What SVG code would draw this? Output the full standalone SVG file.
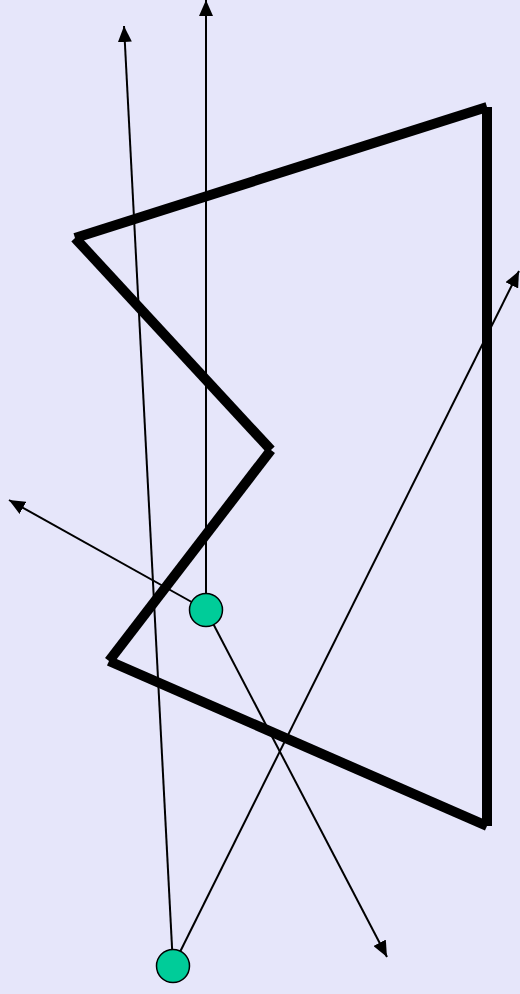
<svg xmlns="http://www.w3.org/2000/svg" width="520" height="994" viewBox="0 0 520 994">
<defs>
<marker id="ah" markerUnits="userSpaceOnUse" markerWidth="17" markerHeight="14" refX="16" refY="7" orient="auto">
<path d="M0,0 L16,7 L0,14 z" fill="#000"/>
</marker>
<style>
.thick{stroke:#000;stroke-width:10;stroke-linecap:butt;fill:none}
.conn{stroke:#000;stroke-width:2;fill:none;marker-end:url(#ah)}
.node{fill:#00cc99;stroke:#000;stroke-width:1.5}
</style>
</defs>
<rect width="520" height="994" fill="#e6e6fa"/>
<g id="shape">
<line class="thick" x1="75" y1="238" x2="271" y2="450"/>
<line class="thick" x1="271" y1="450" x2="109" y2="661"/>
<line class="thick" x1="109" y1="661" x2="487" y2="826"/>
<line class="thick" x1="487" y1="826" x2="487" y2="107"/>
<line class="thick" x1="487" y1="107" x2="75" y2="238"/>
</g>
<g id="connectors">
<line class="conn" x1="206" y1="610" x2="206" y2="0"/>
<line class="conn" x1="206" y1="610" x2="9" y2="500"/>
<line class="conn" x1="206" y1="610" x2="387" y2="957"/>
<line class="conn" x1="173" y1="966" x2="124" y2="26"/>
<line class="conn" x1="173" y1="966" x2="519" y2="271"/>
</g>
<g id="node1"><circle class="node" cx="206" cy="610" r="16.5"/></g>
<g id="node2"><circle class="node" cx="173" cy="966" r="16.5"/></g>
</svg>
